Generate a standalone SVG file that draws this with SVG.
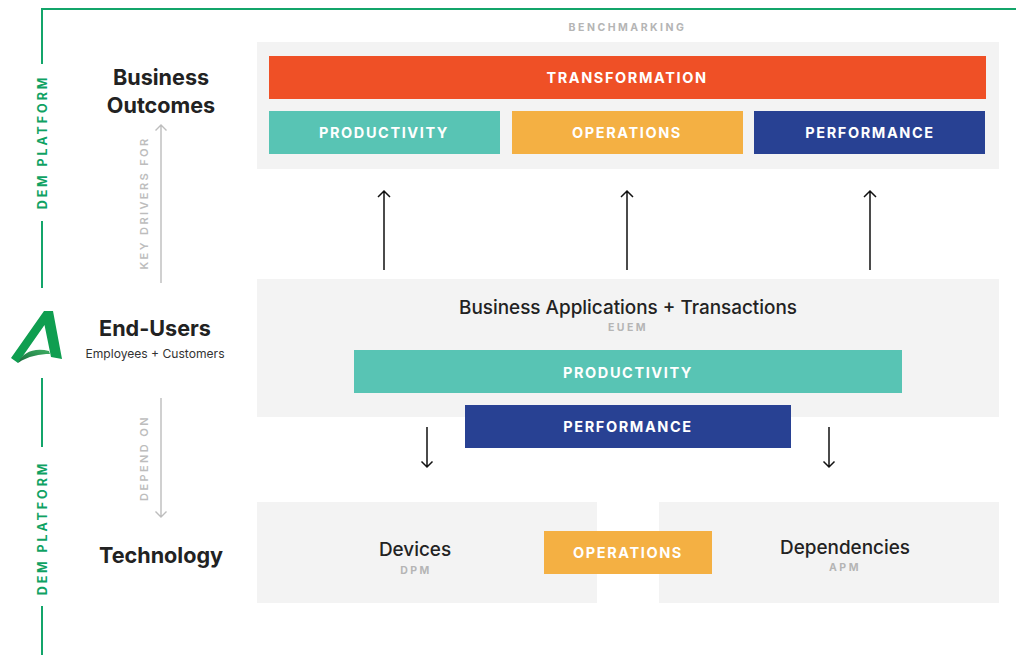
<svg xmlns="http://www.w3.org/2000/svg" width="1016" height="655" viewBox="0 0 1016 655">
<style>
text{font-family:Inter,"Liberation Sans",sans-serif;text-anchor:middle}
.panel{fill:#f3f3f3}
.bar{font-size:14.5px;font-weight:700;letter-spacing:1.6px;fill:#fff}
.head{font-size:21.6px;font-weight:700;fill:#222}
.sub{font-size:18.9px;font-weight:500;fill:#222}
.tag{font-size:10.5px;font-weight:700;letter-spacing:2.5px;fill:#b5b5b5}
.side{font-size:12.5px;font-weight:700;letter-spacing:2.9px;fill:#0fa263}
.gtxt{font-size:11px;font-weight:600;letter-spacing:2.4px;fill:#bdbdbd}
.g{fill:none;stroke:#13a56a;stroke-width:2}
.k{fill:none;stroke:#111;stroke-width:1.5}
.y{fill:none;stroke:#bdbdbd;stroke-width:1.4}
</style>
<defs>
<linearGradient id="lg" x1="0" y1="1" x2="1" y2="0"><stop offset="0" stop-color="#17693a"/><stop offset="1" stop-color="#3eb064"/></linearGradient>
</defs>
<g id="frame">
<path class="g" d="M1016 9H42V64"/><path class="g" d="M42 221V288"/><path class="g" d="M42 378V447"/><path class="g" d="M42 606V655"/>
<text class="side" transform="translate(47 142) rotate(-90)">DEM PLATFORM</text>
<text class="side" transform="translate(47 528) rotate(-90)">DEM PLATFORM</text>
</g>
<g id="logo">
<path d="M44 311H53L62 359L51 357L44.500 325L18 363L11 358Z" fill="#0f9e50"/>
<path d="M18 363C22 353 34 347 49 351L50 354C40 354 28 356 18 363Z" fill="url(#lg)"/>
</g>
<g id="benchmarking"><text class="tag" x="627.500" y="31">BENCHMARKING</text></g>
<g id="business-outcomes"><text class="head" x="161" y="85">Business</text><text class="head" x="161" y="113">Outcomes</text></g>
<g id="end-users"><text class="head" x="155" y="336">End-Users</text><text x="155" y="358" font-size="12.1" fill="#333">Employees + Customers</text></g>
<g id="technology"><text class="head" x="161" y="563">Technology</text></g>
<g id="panel-outcomes"><rect class="panel" x="257" y="42" width="742" height="127"/></g>
<g id="transformation"><rect x="269" y="56" width="717" height="43" fill="#ef5026"/><text class="bar" x="627" y="83">TRANSFORMATION</text></g>
<g id="productivity-top"><rect x="269" y="111" width="231" height="43" fill="#58c4b4"/><text class="bar" x="384" y="138">PRODUCTIVITY</text></g>
<g id="operations-top"><rect x="512" y="111" width="231" height="43" fill="#f4b043"/><text class="bar" x="627" y="138">OPERATIONS</text></g>
<g id="performance-top"><rect x="754" y="111" width="231" height="43" fill="#284193"/><text class="bar" x="870" y="138">PERFORMANCE</text></g>
<g id="panel-apps"><rect class="panel" x="257" y="279" width="742" height="138"/><text class="sub" x="628" y="314">Business Applications + Transactions</text><text class="tag" x="628" y="331">EUEM</text></g>
<g id="productivity-mid"><rect x="354" y="350" width="548" height="43" fill="#58c4b4"/><text class="bar" x="628" y="378">PRODUCTIVITY</text></g>
<g id="performance-mid"><rect x="465" y="405" width="326" height="43" fill="#284193"/><text class="bar" x="628" y="432">PERFORMANCE</text></g>
<g id="devices"><rect class="panel" x="257" y="502" width="340" height="101"/><text class="sub" x="415" y="556">Devices</text><text class="tag" x="416" y="574">DPM</text></g>
<g id="dependencies"><rect class="panel" x="659" y="502" width="340" height="101"/><text class="sub" x="845" y="554">Dependencies</text><text class="tag" x="845" y="571">APM</text></g>
<g id="operations-low"><rect x="544" y="531" width="168" height="43" fill="#f4b043"/><text class="bar" x="628" y="558">OPERATIONS</text></g>
<g id="connectors">
<path class="k" d="M384 270V191M378 197L384 191L390 197"/>
<path class="k" d="M627 270V191M621 197L627 191L633 197"/>
<path class="k" d="M870 270V191M864 197L870 191L876 197"/>
<path class="k" d="M427 427V467M421.500 461.500L427 467L432.500 461.500"/>
<path class="k" d="M829 427V467M823.500 461.500L829 467L834.500 461.500"/>
<path class="y" d="M161 283V125M155.500 130.500L161 125L166.500 130.500"/>
<path class="y" d="M161 398V517M155.500 511.500L161 517L166.500 511.500"/>
<text class="gtxt" transform="translate(148 203) rotate(-90)">KEY DRIVERS FOR</text>
<text class="gtxt" transform="translate(148 458) rotate(-90)">DEPEND ON</text>
</g>
</svg>
